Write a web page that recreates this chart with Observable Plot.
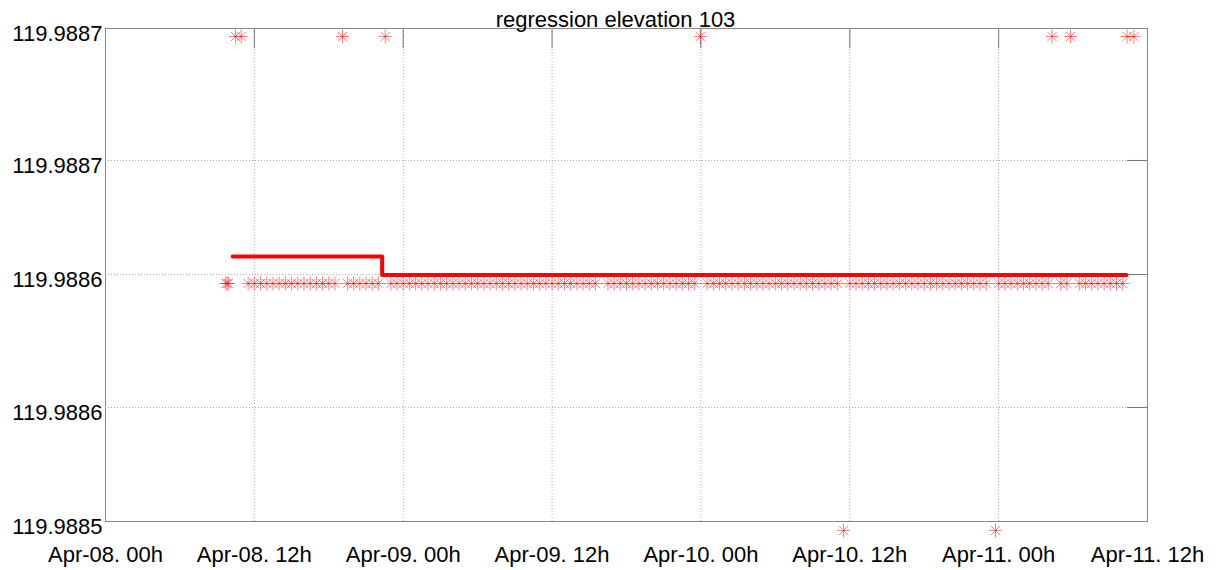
<!DOCTYPE html>
<html>
<head>
<meta charset="utf-8">
<script src="https://cdn.jsdelivr.net/npm/d3@7"></script>
<script src="https://cdn.jsdelivr.net/npm/@observablehq/plot@0.6"></script>
<style>
  html, body { margin: 0; padding: 0; background: #fff; }
</style>
</head>
<body>
<div id="chart"></div>
<script>
// ---- data (hours after Apr-08 00h) ----
const title = "regression elevation 103";
const startISO = "2015-04-08T00:00:00Z";
const endHours = 84;

const levelHigh = 119.9887;
const levelMid = 119.9886;
const levelLow = 119.9885;

const midHours = [
  9.7, 9.8, 9.9,
  11.5, 12, 12.5, 13, 13.5, 14, 14.5, 15, 15.5, 16, 16.5, 17, 17.5, 18, 18.5,
  19.5, 20, 20.5, 21, 21.5, 22,
  23, 23.5, 24, 24.5, 25, 25.5, 26, 26.5, 27, 27.5, 28, 28.5, 29, 29.5, 30, 30.5,
  31, 31.5, 32, 32.5, 33, 33.5, 34, 34.5, 35, 35.5, 36, 36.5, 37, 37.5, 38, 38.5, 39, 39.5,
  40.5, 41, 41.5, 42, 42.5, 43, 43.5, 44, 44.5, 45, 45.5, 46, 46.5, 47, 47.5,
  48.5, 49, 49.5, 50, 50.5, 51, 51.5, 52, 52.5, 53, 53.5, 54, 54.5, 55, 55.5, 56, 56.5, 57, 57.5, 58, 58.5, 59,
  60, 60.5, 61, 61.5, 62, 62.5, 63, 63.5, 64, 64.5, 65, 65.5, 66, 66.5, 67, 67.5, 68, 68.5, 69, 69.5, 70, 70.5, 71,
  72, 72.5, 73, 73.5, 74, 74.5, 75, 75.5, 76,
  77, 77.5,
  78.5, 79, 79.5, 80, 80.5, 81, 81.5, 82
];
const highHours = [10.48, 10.94, 19.1, 22.55, 47.95, 76.3, 77.8, 82.35, 82.9];
const lowHours = [59.5, 71.75];

const regHours = [10.25, 22.3, 82.3];
const regValues = [119.98861093, 119.98860348, 119.98860348];

const yDomain = [119.98850364, 119.98870324];
const yTicks = [119.98870324, 119.9886498, 119.98860364, 119.9885498, 119.98850364];
const yTickLabels = ["119.9887", "119.9887", "119.9886", "119.9886", "119.9885"];

const xTickHours = [0, 12, 24, 36, 48, 60, 72, 84];
const xTickLabels = ["Apr-08. 00h", "Apr-08. 12h", "Apr-09. 00h", "Apr-09. 12h",
                     "Apr-10. 00h", "Apr-10. 12h", "Apr-11. 00h", "Apr-11. 12h"];

// ---- build ----
const t0 = new Date(startISO).getTime();
const toDate = h => new Date(t0 + h * 3600e3);

const points = [
  ...midHours.map(h => ({t: toDate(h), v: levelMid})),
  ...highHours.map(h => ({t: toDate(h), v: levelHigh})),
  ...lowHours.map(h => ({t: toDate(h), v: levelLow}))
];
const reg = regHours.map((h, i) => ({t: toDate(h), v: regValues[i]}));
const xTickDates = xTickHours.map(toDate);
const xLabelMap = new Map(xTickDates.map((d, i) => [+d, xTickLabels[i]]));
const yLabelMap = new Map(yTicks.map((v, i) => [v, yTickLabels[i]]));

const asterisk8 = {
  draw(ctx) {
    const r = 6.5, d = 4.6;
    ctx.moveTo(-r, 0); ctx.lineTo(r, 0);
    ctx.moveTo(0, -7); ctx.lineTo(0, 7);
    ctx.moveTo(-d, -d); ctx.lineTo(d, d);
    ctx.moveTo(-d, d); ctx.lineTo(d, -d);
  }
};

const W = 1224, H = 570, mL = 105, mR = 77, mT = 28, mB = 49;
const innerW = W - mL - mR, innerH = H - mT - mB;

const chart = Plot.plot({
  width: W, height: H,
  marginLeft: mL, marginRight: mR, marginTop: mT, marginBottom: mB,
  style: {fontFamily: "'Liberation Sans', Arial, sans-serif", fontSize: "22px", color: "#000", background: "#fff"},
  x: {type: "utc", domain: [toDate(0), toDate(endHours)], label: null},
  y: {domain: yDomain, label: null},
  marks: [
    Plot.gridX(xTickDates, {stroke: "#aaa", strokeOpacity: 1, strokeDasharray: "1,2"}),
    Plot.gridY(yTicks, {stroke: "#aaa", strokeOpacity: 1, strokeDasharray: "1,2"}),
    Plot.ruleX(xTickDates, {insetBottom: innerH - 20, stroke: "#777"}),
    Plot.ruleY(yTicks, {insetLeft: innerW - 20, stroke: "#777"}),
    Plot.frame({stroke: "#888"}),
    Plot.dot(points, {x: "t", y: "v", symbol: asterisk8, fill: "none", stroke: "#ff0000", strokeOpacity: 0.5, strokeWidth: 1}),
    Plot.line(reg, {x: "t", y: "v", curve: "step-after", stroke: "#ff0000", strokeWidth: 4}),
    Plot.axisX(xTickDates, {tickSize: 0, tickPadding: 25, tickFormat: d => xLabelMap.get(+d), fontSize: 22, label: null}),
    Plot.axisY(yTicks, {tickSize: 0, tickPadding: 3, tickFormat: v => yLabelMap.get(v), fontSize: 22, dy: 5, label: null}),
    Plot.text([title], {frameAnchor: "top", lineAnchor: "bottom", dy: -2, dx: -11, fontSize: 22})
  ]
});
document.getElementById("chart").appendChild(chart);
</script>
</body>
</html>
